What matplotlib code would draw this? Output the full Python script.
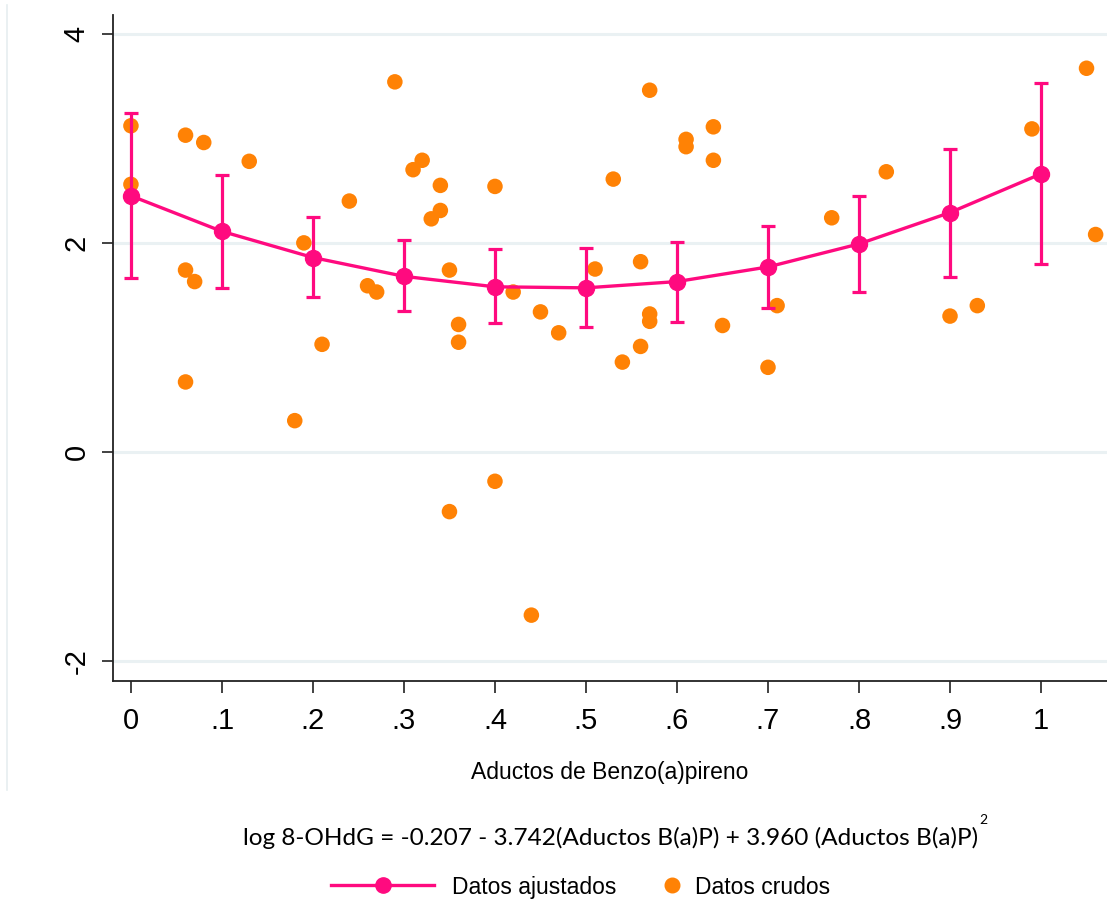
import numpy as np
import matplotlib
matplotlib.use("Agg")
import matplotlib.pyplot as plt
from matplotlib.lines import Line2D

# fitted values with confidence interval
fit_x = [0, .1, .2, .3, .4, .5, .6, .7, .8, .9, 1]
fit_y = [2.45, 2.11, 1.86, 1.68, 1.58, 1.57, 1.63, 1.77, 1.99, 2.29, 2.66]
ci_lo = [1.66, 1.57, 1.48, 1.35, 1.23, 1.20, 1.24, 1.38, 1.53, 1.67, 1.80]
ci_hi = [3.24, 2.65, 2.25, 2.03, 1.94, 1.95, 2.01, 2.16, 2.45, 2.90, 3.53]

# raw observations
raw_x = [0, 0, .06, .08, .13, .06, .07, .06, .18, .19, .21, .24, .26, .27, .29, .31,
         .32, .33, .34, .34, .35, .36, .36, .35, .40, .40, .42, .45, .47, .44, .51, .53,
         .54, .56, .56, .57, .57, .57, .61, .61, .64, .64, .65, .70, .71, .77, .83, .90,
         .93, .99, 1.05, 1.06]
raw_y = [3.12, 2.56, 3.03, 2.96, 2.78, 1.74, 1.63, 0.67, 0.30, 2.00, 1.03, 2.40, 1.59, 1.53,
         3.54, 2.70, 2.79, 2.23, 2.31, 2.55, 1.74, 1.22, 1.05, -0.57, 2.54, -0.28, 1.53, 1.34,
         1.14, -1.56, 1.75, 2.61, 0.86, 1.82, 1.01, 3.46, 1.32, 1.25, 2.99, 2.92, 3.11, 2.79,
         1.21, 0.81, 1.40, 2.24, 2.68, 1.30, 1.40, 3.09, 3.67, 2.08]

xticks = [0, .1, .2, .3, .4, .5, .6, .7, .8, .9, 1]
xticklabels = ["0", ".1", ".2", ".3", ".4", ".5", ".6", ".7", ".8", ".9", "1"]
yticks = [-2, 0, 2, 4]

pink = "#FF0A7F"
orange = "#FF8205"
grid_c = "#EAF1F3"
sans = ["Liberation Sans", "DejaVu Sans"]

fig = plt.figure(figsize=(11.07, 9.05), dpi=100)
ax = fig.add_axes([0.102, 0.2475, 0.898, 0.736])

for yv in yticks:
    ax.axhline(yv, color=grid_c, lw=2.2, zorder=0)

ax.scatter(raw_x, raw_y, s=125, color=orange, edgecolors="none", zorder=2)

yerr = [np.array(fit_y) - np.array(ci_lo), np.array(ci_hi) - np.array(fit_y)]
ax.errorbar(fit_x, fit_y, yerr=yerr, fmt="none", ecolor=pink, elinewidth=2.3,
            capsize=4.7, capthick=2.3, zorder=3)
ax.plot(fit_x, fit_y, color=pink, lw=2.4, marker="o", ms=11.5, mec=pink, zorder=4)

ax.set_xlim(-0.0198, 1.0725)
ax.set_ylim(-2.19, 4.18)
ax.set_xticks(xticks)
ax.set_xticklabels(xticklabels, fontsize=21, family=sans)
ax.set_yticks(yticks)
ax.set_yticklabels([str(v) for v in yticks], fontsize=21, family=sans,
                   rotation=90, va="center")
ax.tick_params(axis="x", length=8.5, width=1.3, pad=10, color="#333333")
ax.tick_params(axis="y", length=8, width=1.3, pad=8, color="#333333")
for s in ["top", "right"]:
    ax.spines[s].set_visible(False)
for s in ["left", "bottom"]:
    ax.spines[s].set_linewidth(1.3)
    ax.spines[s].set_color("#222222")

ax.set_xlabel("Aductos de Benzo(a)pireno", fontsize=16.5, family=sans, labelpad=19)

# thin frame line at the far left
fig.add_artist(Line2D([0.0065, 0.0065], [1 - 5 / 905, 1 - 790 / 905], color="#E6EEF0", lw=1.2))

eq_font = ["Lato", "DejaVu Sans"]
fig.text(611 / 1107, 1 - 838 / 905,
         "log 8-OHdG = -0.207 - 3.742(Aductos B(a)P) + 3.960 (Aductos B(a)P)",
         fontsize=17.6, family=eq_font, ha="center", va="center")
fig.text(983 / 1107, 1 - 820 / 905, "2", fontsize=10, family=eq_font, ha="center", va="center")

h1 = Line2D([], [], color=pink, lw=2.4, marker="o", ms=11)
h2 = Line2D([], [], color=orange, lw=0, marker="o", ms=10.5)
leg_font = {"family": sans, "size": 16.5}
fig.legend([h1], ["Datos ajustados"], loc="center left", bbox_to_anchor=(331 / 1107, 1 - 887 / 905),
           frameon=False, handlelength=4.5, handletextpad=0.78, borderpad=0, borderaxespad=0, prop=leg_font)
fig.legend([h2], ["Datos crudos"], loc="center left", bbox_to_anchor=(661 / 1107, 1 - 887 / 905),
           frameon=False, handlelength=1.0, handletextpad=0.5, borderpad=0, borderaxespad=0, prop=leg_font)

fig.savefig("out.png", dpi=100)
